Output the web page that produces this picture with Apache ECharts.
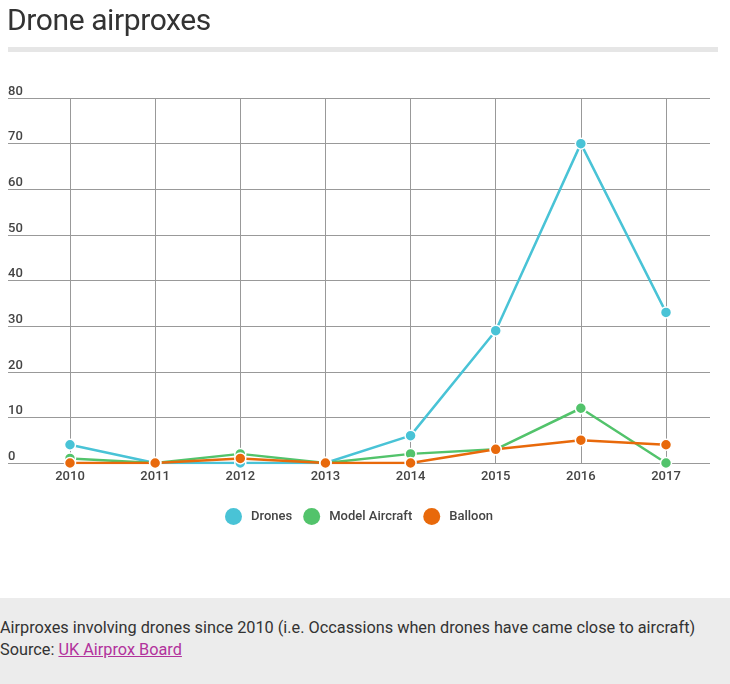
<!DOCTYPE html>
<html><head><meta charset="utf-8">
<script src="https://cdn.jsdelivr.net/npm/echarts@6/dist/echarts.min.js"></script>
<style>
html,body{margin:0;padding:0;background:#fff;font-family:Roboto,"Noto Sans",sans-serif;}
#wrap{position:relative;width:730px;height:684px;overflow:hidden;}
#title{position:absolute;left:7px;top:0px;font-size:30px;color:#333;font-weight:400;letter-spacing:-0.4px;line-height:40px;}
#bar{position:absolute;left:8px;top:47px;width:710px;height:5px;background:#e6e6e6;}
#chart{position:absolute;left:0;top:0;width:730px;height:598px;}
#foot{position:absolute;left:0;top:598px;width:730px;height:86px;background:#ececec;font-size:16.3px;color:#333;}
#foot .l1{position:absolute;left:0;top:20px;white-space:nowrap;}
#foot .l2{position:absolute;left:0;top:42px;white-space:nowrap;}
#foot a{color:#b2329c;text-decoration:underline;}
</style></head>
<body><div id="wrap">
<div id="chart"></div>
<div id="title">Drone airproxes</div>
<div id="bar"></div>
<div id="foot"><div class="l1">Airproxes involving drones since 2010 (i.e. Occassions when drones have came close to aircraft)</div><div class="l2">Source: <a href="#">UK Airprox Board</a></div></div>
</div>
<script>
const years = ['2010','2011','2012','2013','2014','2015','2016','2017'];
const drones = [4, 0, 0, 0, 6, 29, 70, 33];
const modelAircraft = [1, 0, 2, 0, 2, 3, 12, 0];
const balloon = [0, 0, 1, 0, 0, 3, 5, 4];
const seriesNames = ['Drones', 'Model Aircraft', 'Balloon'];
const colors = ['#49c3d6', '#52c36b', '#e8690b'];

const chart = echarts.init(document.getElementById('chart'), null, {renderer:'canvas'});
const gTop = 98, gBottom = 598 - 463;
function mk(name, data, color){
  return {name, type:'line', data, xAxisIndex:1, yAxisIndex:1, color,
    symbol:'circle', symbolSize:11, showSymbol:true,
    lineStyle:{width:2.5, color},
    itemStyle:{color, borderColor:'#fff', borderWidth:1.5},
    emphasis:{disabled:true}, animation:false, z:3};
}
chart.setOption({
  animation:false,
  textStyle:{fontFamily:'Roboto'},
  legend:{bottom:68, left:220, itemWidth:17, itemHeight:17, itemGap:11, icon:'circle',
    data:seriesNames, itemStyle:{borderWidth:0},
    textStyle:{fontSize:13, color:'#444', fontWeight:500, padding:[0,0,0,4]}},
  grid:[
    {left:8, right:20, top:gTop, bottom:gBottom},
    {left:70, right:64, top:gTop, bottom:gBottom}
  ],
  xAxis:[
    {gridIndex:0, type:'value', show:false},
    {gridIndex:1, type:'category', data:years, boundaryGap:false,
      axisLine:{show:false}, axisTick:{show:false},
      axisLabel:{fontSize:13, color:'#444', margin:7, fontWeight:500},
      splitLine:{show:true, lineStyle:{color:'#999', width:1}}}
  ],
  yAxis:[
    {gridIndex:0, type:'value', min:0, max:80, interval:10,
      axisLine:{show:false}, axisTick:{show:false},
      axisLabel:{inside:true, verticalAlign:'bottom', fontSize:13, color:'#444', fontWeight:500, margin:0, padding:[0,0,0,0]},
      splitLine:{show:true, lineStyle:{color:'#999', width:1}}},
    {gridIndex:1, type:'value', min:0, max:80, interval:10, show:false}
  ],
  series:[
    mk(seriesNames[0], drones, colors[0]),
    mk(seriesNames[1], modelAircraft, colors[1]),
    mk(seriesNames[2], balloon, colors[2])
  ]
});
</script>
</body></html>
